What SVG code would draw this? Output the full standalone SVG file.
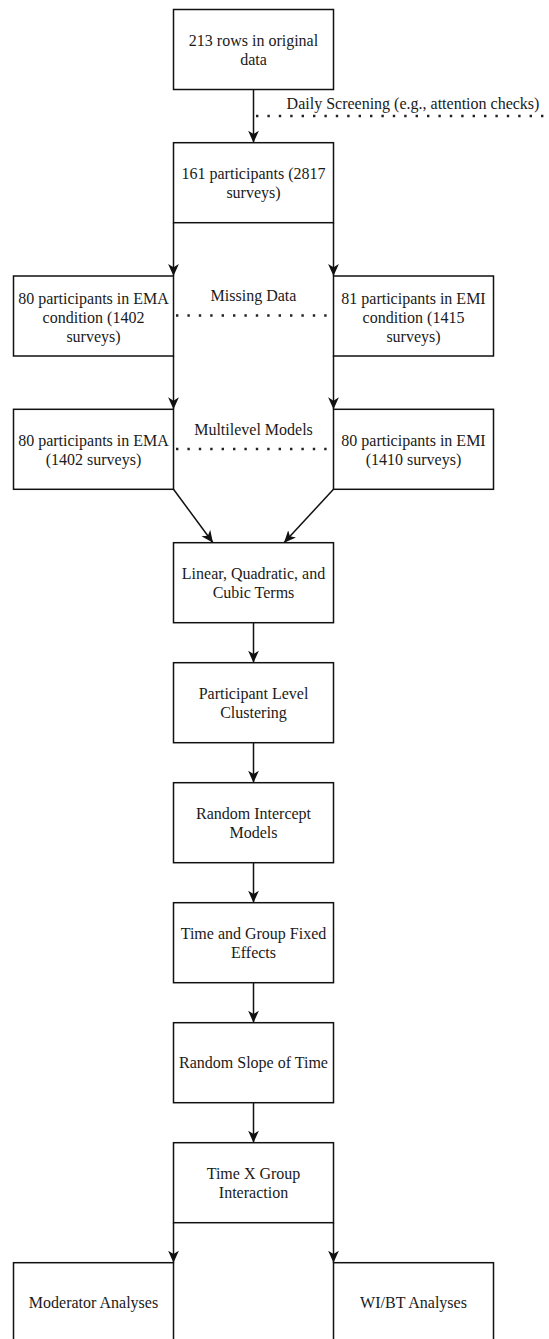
<svg xmlns="http://www.w3.org/2000/svg" width="549" height="1339" viewBox="0 0 549 1339">
<style>
.box{fill:#fff;stroke:#111;stroke-width:1.5}
.t{font-family:"Liberation Serif","Times New Roman",serif;font-size:16px;fill:#1a1a1a;text-anchor:middle}
.edge{fill:none;stroke:#111;stroke-width:1.5}
.dot{fill:none;stroke:#222;stroke-width:2.4;stroke-dasharray:2.4 9;stroke-linecap:butt}
</style>
<defs>
<marker id="arr" viewBox="0 0 10 10" refX="10" refY="5" markerWidth="12" markerHeight="12" orient="auto" markerUnits="userSpaceOnUse">
<path d="M0,0.5 L10,5 L0,9.5 L2.8,5 Z" fill="#111"/>
</marker>
</defs>
<rect width="549" height="1339" fill="#fff"/>

<g id="connectors">
<line class="edge" x1="253.5" y1="89.5" x2="253.5" y2="142.7" marker-end="url(#arr)"/>
<line class="edge" x1="173.5" y1="222.7" x2="173.5" y2="276" marker-end="url(#arr)"/>
<line class="edge" x1="333.5" y1="222.7" x2="333.5" y2="276" marker-end="url(#arr)"/>
<line class="edge" x1="173.5" y1="356" x2="173.5" y2="409.3" marker-end="url(#arr)"/>
<line class="edge" x1="333.5" y1="356" x2="333.5" y2="409.3" marker-end="url(#arr)"/>
<line class="edge" x1="173.5" y1="489.3" x2="213" y2="542.7" marker-end="url(#arr)"/>
<line class="edge" x1="333.5" y1="489.3" x2="284" y2="542.7" marker-end="url(#arr)"/>
<line class="edge" x1="253.5" y1="622.7" x2="253.5" y2="662.7" marker-end="url(#arr)"/>
<line class="edge" x1="253.5" y1="742.7" x2="253.5" y2="782.7" marker-end="url(#arr)"/>
<line class="edge" x1="253.5" y1="862.7" x2="253.5" y2="902.7" marker-end="url(#arr)"/>
<line class="edge" x1="253.5" y1="982.7" x2="253.5" y2="1022.7" marker-end="url(#arr)"/>
<line class="edge" x1="253.5" y1="1102.7" x2="253.5" y2="1142.7" marker-end="url(#arr)"/>
<line class="edge" x1="173.5" y1="1222.7" x2="173.5" y2="1262.7" marker-end="url(#arr)"/>
<line class="edge" x1="333.5" y1="1222.7" x2="333.5" y2="1262.7" marker-end="url(#arr)"/>
<line class="dot" x1="256" y1="116" x2="549" y2="116"/>
<text class="t" x="413" y="109">Daily Screening (e.g., attention checks)</text>
<line class="dot" x1="176" y1="315.5" x2="333" y2="315.5"/>
<text class="t" x="253.5" y="301">Missing Data</text>
<line class="dot" x1="176" y1="449" x2="333" y2="449"/>
<text class="t" x="253.5" y="434.5">Multilevel Models</text>
</g>

<g id="n1"><rect class="box" x="173.5" y="9.5" width="160" height="80"/>
<text class="t" x="253.5" y="46">213 rows in original</text><text class="t" x="253.5" y="65">data</text></g>

<g id="n2"><rect class="box" x="173.5" y="142.7" width="160" height="80"/>
<text class="t" x="253.5" y="179">161 participants (2817</text><text class="t" x="253.5" y="198">surveys)</text></g>

<g id="n3"><rect class="box" x="13.5" y="276" width="160" height="80"/>
<text class="t" x="93.5" y="303.5">80 participants in EMA</text><text class="t" x="93.5" y="322.5">condition (1402</text><text class="t" x="93.5" y="341.5">surveys)</text></g>

<g id="n4"><rect class="box" x="333.5" y="276" width="160" height="80"/>
<text class="t" x="413.5" y="303.5">81 participants in EMI</text><text class="t" x="413.5" y="322.5">condition (1415</text><text class="t" x="413.5" y="341.5">surveys)</text></g>

<g id="n5"><rect class="box" x="13.5" y="409.3" width="160" height="80"/>
<text class="t" x="93.5" y="446">80 participants in EMA</text><text class="t" x="93.5" y="465">(1402 surveys)</text></g>

<g id="n6"><rect class="box" x="333.5" y="409.3" width="160" height="80"/>
<text class="t" x="413.5" y="446">80 participants in EMI</text><text class="t" x="413.5" y="465">(1410 surveys)</text></g>

<g id="n7"><rect class="box" x="173.5" y="542.7" width="160" height="80"/>
<text class="t" x="253.5" y="579">Linear, Quadratic, and</text><text class="t" x="253.5" y="598">Cubic Terms</text></g>

<g id="n8"><rect class="box" x="173.5" y="662.7" width="160" height="80"/>
<text class="t" x="253.5" y="699">Participant Level</text><text class="t" x="253.5" y="718">Clustering</text></g>

<g id="n9"><rect class="box" x="173.5" y="782.7" width="160" height="80"/>
<text class="t" x="253.5" y="819">Random Intercept</text><text class="t" x="253.5" y="838">Models</text></g>

<g id="n10"><rect class="box" x="173.5" y="902.7" width="160" height="80"/>
<text class="t" x="253.5" y="939">Time and Group Fixed</text><text class="t" x="253.5" y="958">Effects</text></g>

<g id="n11"><rect class="box" x="173.5" y="1022.7" width="160" height="80"/>
<text class="t" x="253.5" y="1068.2">Random Slope of Time</text></g>

<g id="n12"><rect class="box" x="173.5" y="1142.7" width="160" height="80"/>
<text class="t" x="253.5" y="1179">Time X Group</text><text class="t" x="253.5" y="1198">Interaction</text></g>

<g id="n13"><rect class="box" x="13.5" y="1262.7" width="160" height="80"/>
<text class="t" x="93.5" y="1308.2">Moderator Analyses</text></g>

<g id="n14"><rect class="box" x="333.5" y="1262.7" width="160" height="80"/>
<text class="t" x="413.5" y="1308.2">WI/BT Analyses</text></g>
</svg>
